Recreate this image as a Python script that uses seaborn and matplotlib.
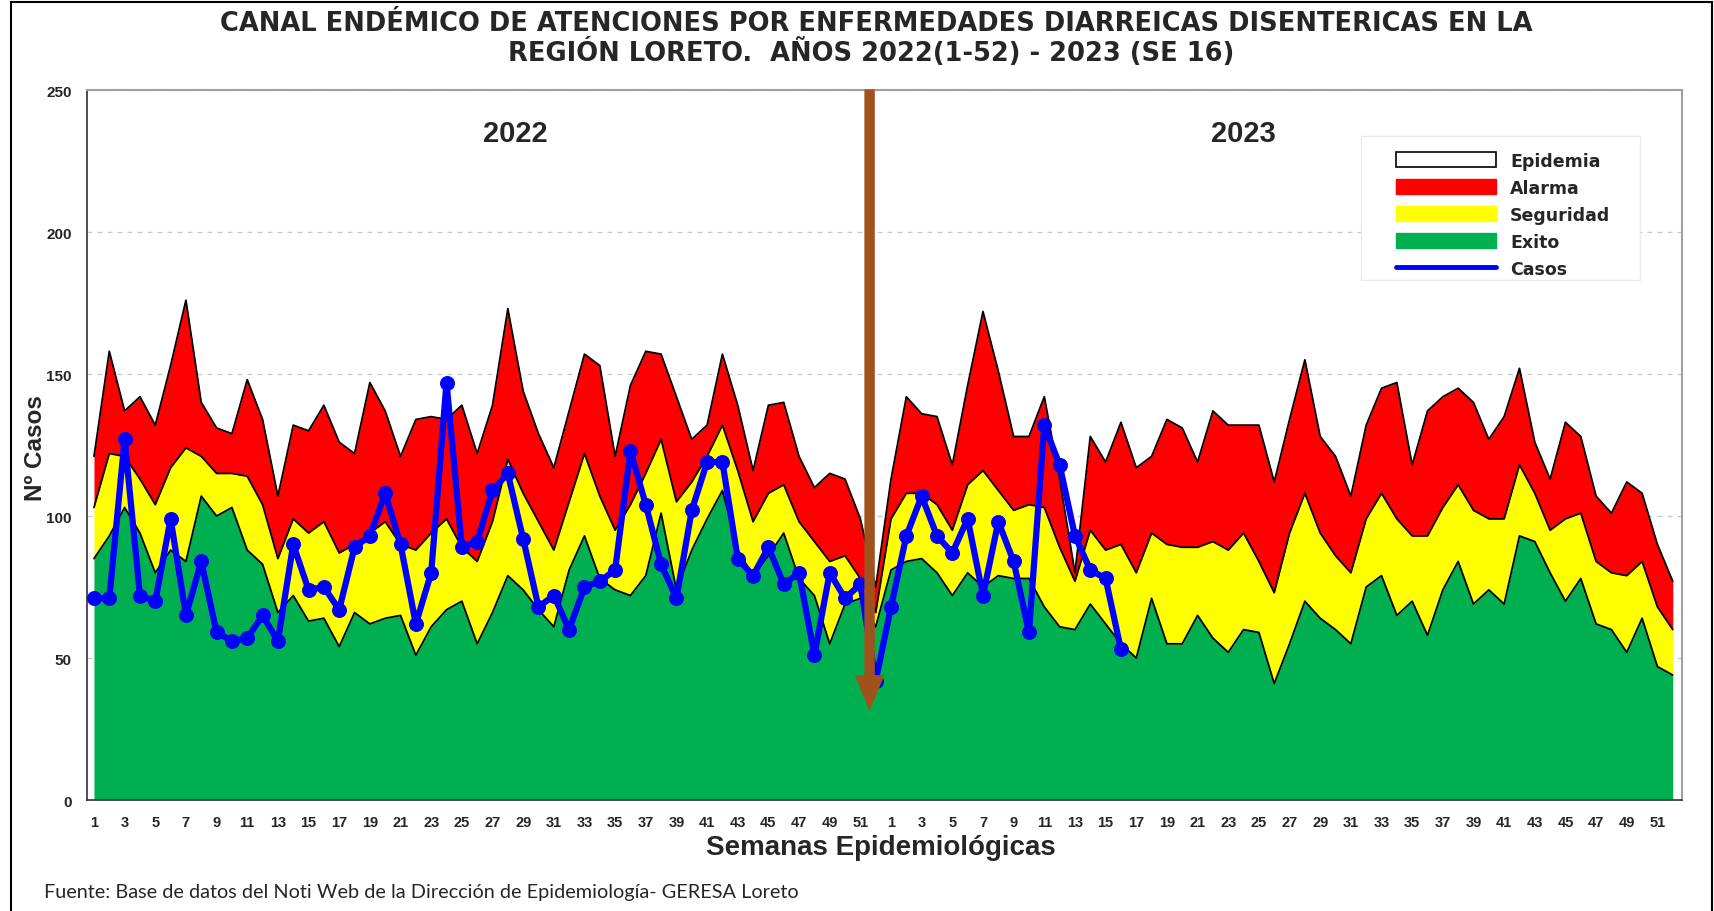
import numpy as np
import pandas as pd
import matplotlib
matplotlib.use("Agg")
import matplotlib.pyplot as plt
import seaborn as sns
from matplotlib.patches import Patch, Rectangle
from matplotlib.lines import Line2D

sns.set_style("white")
plt.rcParams['font.family'] = ['Liberation Sans', 'DejaVu Sans']

# ---------------- data ----------------
weeks = list(range(1, 53))
years = ["2022", "2023"]
series_names = ["Epidemia", "Alarma", "Seguridad", "Exito", "Casos"]

# upper limit of the green band (Exito)
exito = [85, 93, 103, 94, 80, 88, 84, 107, 100, 103, 88, 83, 66, 72, 63, 64, 54, 66, 62, 64,
         65, 51, 61, 67, 70, 55, 66, 79, 74, 67, 61, 81, 93, 78, 74, 72, 79, 101, 74, 88,
         99, 109, 88, 79, 86, 94, 78, 72, 55, 69, 71, 61,
         81, 84, 85, 80, 72, 80, 75, 79, 78, 78, 68, 61, 60, 69, 62, 55, 50, 71, 55, 55,
         65, 57, 52, 60, 59, 41, 55, 70, 64, 60, 55, 75, 79, 65, 70, 58, 74, 84, 69, 74,
         69, 93, 91, 80, 70, 78, 62, 60, 52, 64, 47, 44]
# upper limit of the yellow band (Seguridad)
seguridad = [103, 122, 121, 113, 104, 117, 124, 121, 115, 115, 114, 104, 85, 99, 94, 98, 87, 90, 94, 98,
             90, 88, 94, 99, 89, 84, 98, 120, 108, 98, 88, 105, 122, 107, 95, 104, 115, 127, 105, 112,
             121, 132, 116, 98, 108, 111, 98, 91, 84, 86, 78, 66,
             99, 108, 108, 104, 95, 111, 116, 109, 102, 104, 103, 89, 77, 95, 88, 90, 80, 94, 90, 89,
             89, 91, 88, 94, 84, 73, 94, 108, 94, 86, 80, 99, 108, 99, 93, 93, 103, 111, 102, 99,
             99, 118, 108, 95, 99, 101, 84, 80, 79, 84, 68, 60]
# upper limit of the red band (Alarma)
alarma = [121, 158, 137, 142, 132, 153, 176, 140, 131, 129, 148, 134, 107, 132, 130, 139, 126, 122, 147, 137,
          121, 134, 135, 134, 139, 122, 139, 173, 144, 129, 117, 137, 157, 153, 121, 146, 158, 157, 142, 127,
          132, 157, 139, 116, 139, 140, 121, 110, 115, 113, 99, 75,
          113, 142, 136, 135, 118, 146, 172, 151, 128, 128, 142, 113, 80, 128, 119, 133, 117, 121, 134, 131,
          119, 137, 132, 132, 132, 112, 134, 155, 128, 121, 107, 132, 145, 147, 118, 137, 142, 145, 140, 127,
          135, 152, 126, 113, 133, 128, 107, 101, 112, 108, 90, 77]
casos_2022 = [71, 71, 127, 72, 70, 99, 65, 84, 59, 56, 57, 65, 56, 90, 74, 75, 67, 89, 93, 108,
              90, 62, 80, 147, 89, 91, 109, 115, 92, 68, 72, 60, 75, 77, 81, 123, 104, 83, 71, 102,
              119, 119, 85, 79, 89, 76, 80, 51, 80, 71, 76, 42]
casos_2023 = [68, 93, 107, 93, 87, 99, 72, 98, 84, 59, 132, 118, 93, 81, 78, 53]

tick_labels = [str(w) if w % 2 == 1 else "" for w in weeks] * 2

# ---------------- figure ----------------
fig = plt.figure(figsize=(17.14, 9.12), dpi=100)
ax = fig.add_axes([0.0508, 0.1217, 0.9305, 0.7785])

x = np.arange(len(exito))
ax.fill_between(x, 0, exito, color="#00B050", lw=0, zorder=1)
ax.fill_between(x, exito, seguridad, color="#FFFF00", lw=0, zorder=1)
ax.fill_between(x, seguridad, alarma, color="#FF0000", lw=0, zorder=1)
for s in (exito, seguridad, alarma):
    ax.plot(x, s, color="black", lw=1.3, zorder=2)

casos = casos_2022 + casos_2023
df = pd.DataFrame({"x": x[:len(casos)], "casos": casos})
sns.lineplot(data=df, x="x", y="casos", ax=ax, color="#0000FF", lw=4.5,
             marker="o", markersize=10, markeredgecolor="#0000FF", zorder=5)

# arrow separating the years
ax.annotate("", xy=(50.6, 32), xytext=(50.6, 250),
            arrowprops=dict(facecolor="#A0521E", edgecolor="#A0521E",
                            width=6.5, headwidth=20, headlength=24),
            zorder=6, annotation_clip=False)

ax.text(27.5, 235, years[0], fontsize=21, fontweight="bold", ha="center", va="center")
ax.text(75.0, 235, years[1], fontsize=21, fontweight="bold", ha="center", va="center")

# axes
ax.set_xlim(-0.45, 103.6)
ax.set_ylim(0, 250)
ax.set_yticks([0, 50, 100, 150, 200, 250])
ax.set_xticks(x)
ax.set_xticklabels(tick_labels)
ax.tick_params(axis="x", direction="out", length=5, width=1, labelsize=10.5, pad=6)
ax.tick_params(axis="y", direction="out", length=5, width=1, labelsize=11, pad=6)
for lbl in ax.get_xticklabels() + ax.get_yticklabels():
    lbl.set_fontweight("bold")
ax.set_xlabel("")
ax.set_ylabel("")
ax.yaxis.grid(True, linestyle=(0, (4, 4)), color="#C8C8C8", lw=0.9)
ax.set_axisbelow(True)
for side in ["top", "right"]:
    ax.spines[side].set_color("#A0A0A0")
    ax.spines[side].set_linewidth(1.5)
for side in ["left", "bottom"]:
    ax.spines[side].set_color("#404040")
    ax.spines[side].set_linewidth(1.3)

# legend (faint frame drawn separately for wider inner padding)
ax.add_patch(Rectangle((0.799, 0.733), 0.175, 0.202, transform=ax.transAxes,
                       facecolor="white", edgecolor="#EBEBEB", lw=1.0, zorder=6.5))
handles = [
    Patch(facecolor="white", edgecolor="black", lw=1.2),
    Patch(facecolor="#FF0000", edgecolor="#FF0000"),
    Patch(facecolor="#FFFF00", edgecolor="#FFFF00"),
    Patch(facecolor="#00B050", edgecolor="#00B050"),
    Line2D([0], [0], color="#0000FF", lw=3.5),
]
leg = ax.legend(handles, series_names, loc="upper left", bbox_to_anchor=(0.821, 0.913),
                frameon=False, handlelength=5.75, handleheight=0.96,
                labelspacing=0.52, borderpad=0, handletextpad=0.8, borderaxespad=0,
                prop={"weight": "bold", "size": 12.5, "family": "DejaVu Sans"})
leg.set_zorder(7)

# titles and labels
fig.text(0.511, 0.974, "CANAL ENDÉMICO DE ATENCIONES POR ENFERMEDADES DIARREICAS DISENTERICAS EN LA",
         ha="center", va="center", fontsize=18.5, fontweight="bold", family="DejaVu Sans")
fig.text(0.508, 0.942, "REGIÓN LORETO.  AÑOS 2022(1-52) - 2023 (SE 16)",
         ha="center", va="center", fontsize=18.5, fontweight="bold", family="DejaVu Sans")
fig.text(0.514, 0.070, "Semanas Epidemiológicas", ha="center", va="center",
         fontsize=20, fontweight="bold")
fig.text(0.021, 0.509, "Nº Casos", ha="center", va="center", rotation=90,
         fontsize=17.5, fontweight="bold")
fig.text(0.0257, 0.021, "Fuente: Base de datos del Noti Web de la Dirección de Epidemiología- GERESA Loreto",
         ha="left", va="center", fontsize=14.3, family="Lato")

fig.patches.append(Rectangle((0.0064, -0.01), 0.9924, 1.007, transform=fig.transFigure,
                             fill=False, edgecolor="black", lw=1.5))

fig.savefig("out.png", dpi=100)
